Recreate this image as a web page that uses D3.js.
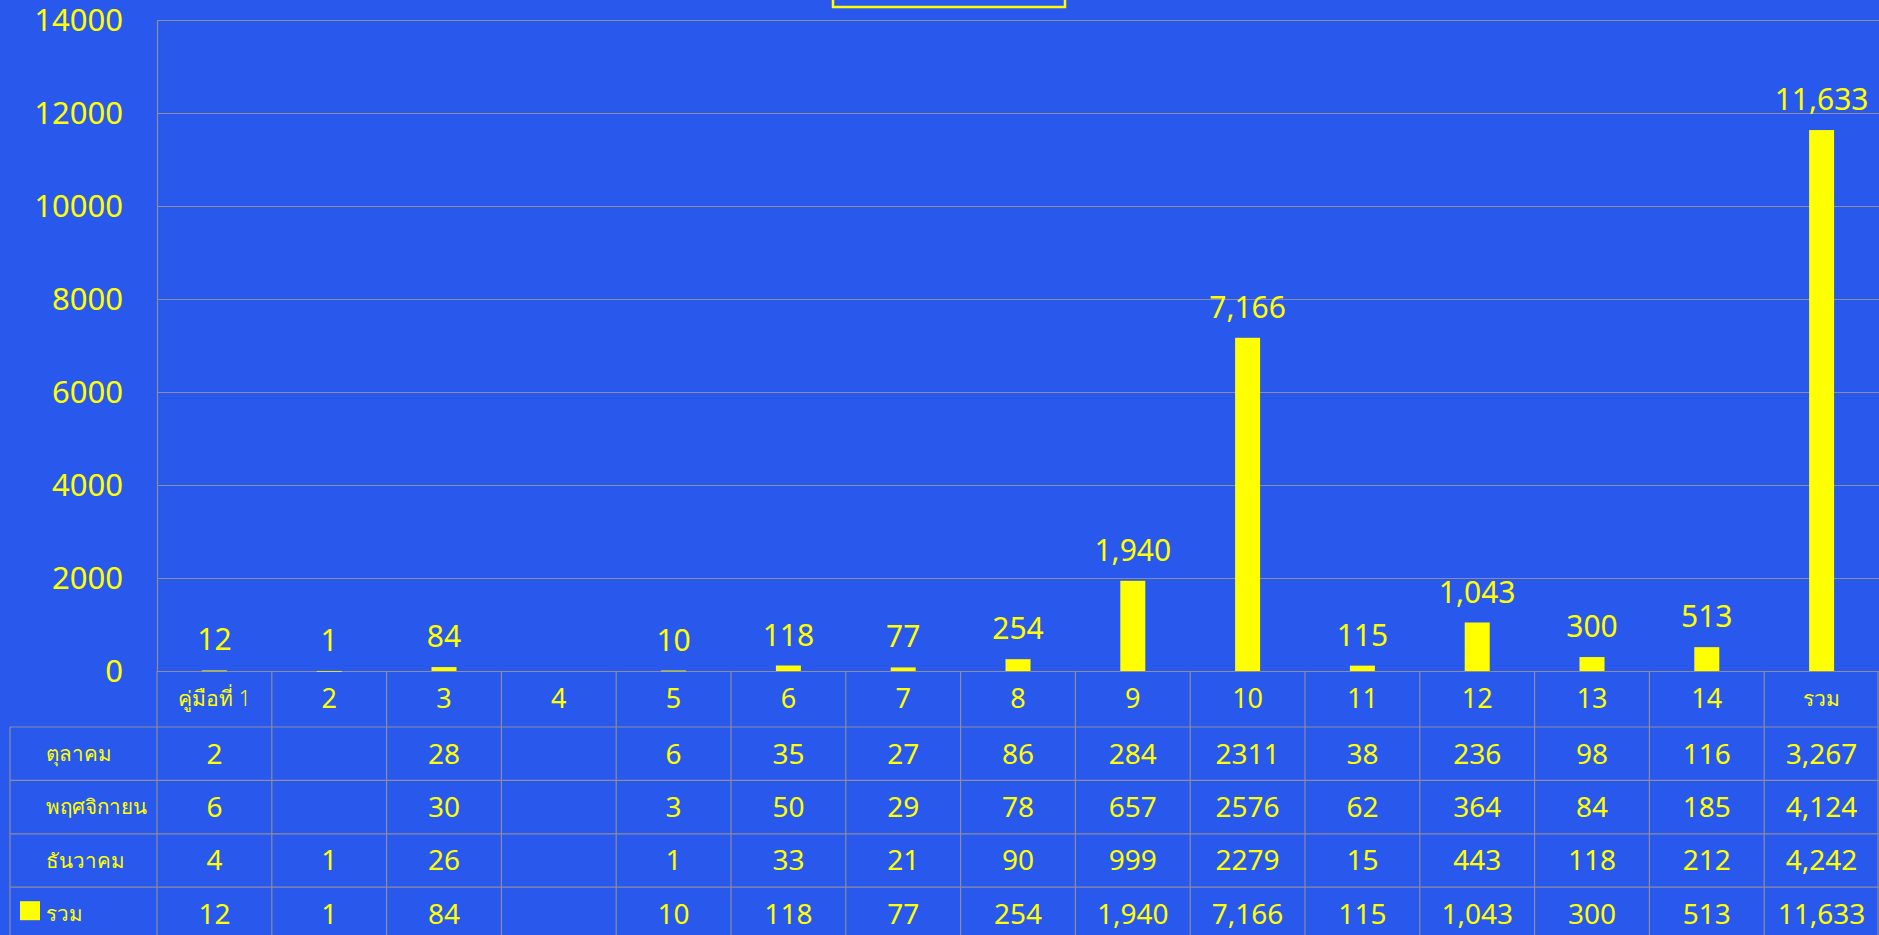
<!DOCTYPE html>
<html>
<head>
  <meta charset="utf-8">
  <title>คู่มือ</title>
  <script src="https://cdnjs.cloudflare.com/ajax/libs/d3/7.8.5/d3.min.js"></script>
  <style>
    html, body { margin: 0; padding: 0; background: #2958ec; overflow: hidden; }
    svg { display: block; font-family: "Noto Sans", "Open Sans", sans-serif; }
    .grid line, .grid path { stroke: #8c8c9c; stroke-width: 1.2; }
    .grid text { fill: #ffff00; font-size: 31px; font-family: "Noto Sans", "Open Sans", sans-serif; }
  </style>
</head>
<body>
<svg id="chart" width="1879" height="935"></svg>
<script>
  // data
  const categories = ['คู่มือที่ 1', '2', '3', '4', '5', '6', '7', '8', '9', '10', '11', '12', '13', '14', 'รวม']
  const rowNames = ['ตุลาคม', 'พฤศจิกายน', 'ธันวาคม', 'รวม']
  const october  = [2, null, 28, null, 6, 35, 27, 86, 284, 2311, 38, 236, 98, 116, 3267]
  const november = [6, null, 30, null, 3, 50, 29, 78, 657, 2576, 62, 364, 84, 185, 4124]
  const december = [4, 1, 26, null, 1, 33, 21, 90, 999, 2279, 15, 443, 118, 212, 4242]
  const total    = [12, 1, 84, null, 10, 118, 77, 254, 1940, 7166, 115, 1043, 300, 513, 11633]
  const yTicks = [0, 2000, 4000, 6000, 8000, 10000, 12000, 14000]

  const plotLeft = 157, plotTop = 20, plotBottom = 671, plotRight = 1879
  const tableLeft = 10, headH = 56, rowH = 53.4
  const yellow = '#ffff00', lineColor = '#8c8c9c'

  const svg = d3.select('#chart')

  const x = d3.scaleBand().domain(categories).range([plotLeft, plotRight])
  const y = d3.scaleLinear().domain([0, 14000]).range([plotBottom, plotTop])

  // title box (mostly off the top edge)
  svg.append('rect')
    .attr('x', 833).attr('y', -40).attr('width', 232).attr('height', 47)
    .attr('fill', 'none').attr('stroke', yellow).attr('stroke-width', 2.5)

  // gridlines + y labels
  const gy = svg.append('g').attr('class', 'grid')
    .attr('transform', `translate(${plotLeft},0)`)
    .call(d3.axisLeft(y).tickValues(yTicks).tickFormat(d => d)
      .tickSizeInner(-(plotRight - plotLeft)).tickSizeOuter(0).tickPadding(34))
  gy.selectAll('text').attr('dy', '0.35em')

  // bars
  const barW = 25
  const bars = categories.map((c, i) => ({ c, v: total[i] })).filter(d => d.v != null)
  svg.append('g').selectAll('rect').data(bars).join('rect')
    .attr('x', d => x(d.c) + x.bandwidth() / 2 - barW / 2)
    .attr('y', d => y(d.v))
    .attr('width', barW)
    .attr('height', d => Math.max(0.8, y(0) - y(d.v)))
    .attr('fill', yellow)

  // data labels
  svg.append('g').selectAll('text').data(bars).join('text')
    .attr('x', d => x(d.c) + x.bandwidth() / 2)
    .attr('y', d => y(d.v) - 20)
    .attr('text-anchor', 'middle')
    .attr('fill', yellow)
    .attr('font-size', 30)
    .text(d => d3.format(',')(d.v))

  // data table
  const table = svg.append('g')
  const rows = [october, november, december, total]
  const rowTop = r => plotBottom + headH + rowH * r
  const tableBottom = rowTop(4) + rowH + 5

  // horizontal lines
  for (let r = 0; r < 4; r++) {
    table.append('line')
      .attr('x1', tableLeft).attr('x2', plotRight)
      .attr('y1', rowTop(r)).attr('y2', rowTop(r))
      .attr('stroke', lineColor).attr('stroke-width', 1.2)
  }
  // left border
  table.append('line')
    .attr('x1', tableLeft).attr('x2', tableLeft)
    .attr('y1', rowTop(0)).attr('y2', tableBottom)
    .attr('stroke', lineColor).attr('stroke-width', 1.2)
  // column lines
  categories.forEach(c => {
    table.append('line')
      .attr('x1', x(c)).attr('x2', x(c))
      .attr('y1', plotBottom).attr('y2', tableBottom)
      .attr('stroke', lineColor).attr('stroke-width', 1.2)
  })
  table.append('line')
    .attr('x1', plotRight - 1).attr('x2', plotRight - 1)
    .attr('y1', plotBottom).attr('y2', tableBottom)
    .attr('stroke', lineColor).attr('stroke-width', 1.2)

  // header
  table.selectAll('text.head').data(categories).join('text')
    .attr('class', 'head')
    .attr('x', d => x(d) + x.bandwidth() / 2)
    .attr('y', plotBottom + headH / 2)
    .attr('dy', '0.35em')
    .attr('text-anchor', 'middle')
    .attr('fill', yellow)
    .attr('font-size', d => isNaN(+d) ? 21 : 27)
    .attr('font-weight', d => isNaN(+d) ? 300 : 400)
    .text(d => d)

  // row labels and values
  rowNames.forEach((name, r) => {
    const cy = rowTop(r) + rowH / 2
    table.append('text')
      .attr('x', 46).attr('y', cy).attr('dy', '0.35em')
      .attr('fill', yellow).attr('font-size', 20.5).attr('font-weight', 300)
      .text(name)
    const vals = rows[r]
    const isTotal = r === 3
    table.append('g').selectAll('text').data(vals).join('text')
      .attr('x', (d, i) => x(categories[i]) + x.bandwidth() / 2)
      .attr('y', cy).attr('dy', '0.35em')
      .attr('text-anchor', 'middle')
      .attr('fill', yellow).attr('font-size', 28)
      .text((d, i) => d == null ? '' : (isTotal || i === categories.length - 1) ? d3.format(',')(d) : d)
  })
  // legend key
  table.append('rect')
    .attr('x', 20).attr('y', rowTop(3) + 14)
    .attr('width', 20).attr('height', 19)
    .attr('fill', yellow)
</script>
</body>
</html>
